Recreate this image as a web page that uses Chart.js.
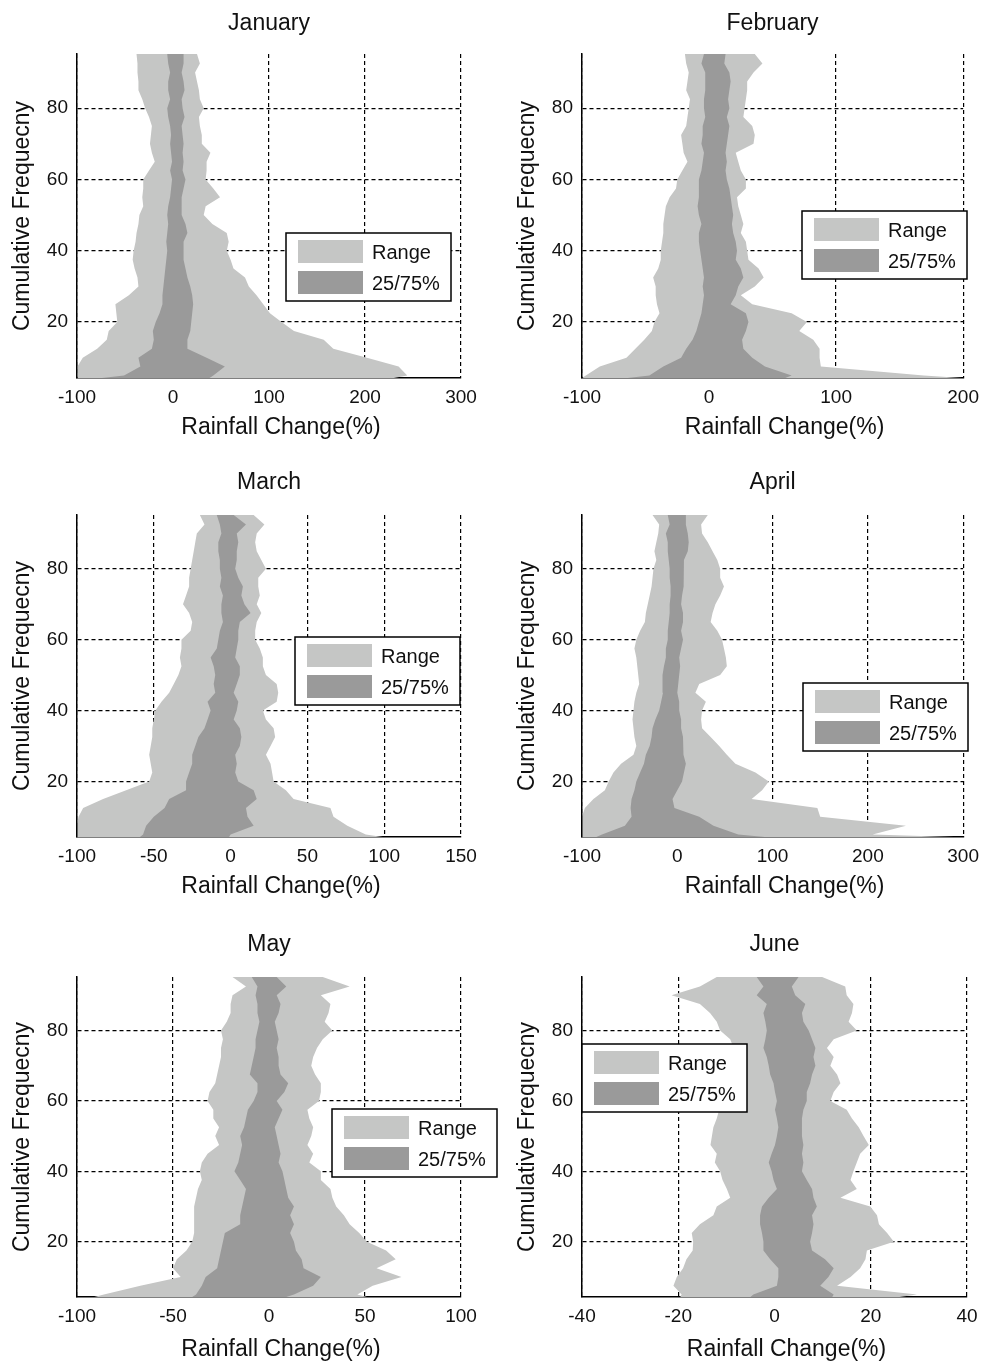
<!DOCTYPE html>
<html>
<head>
<meta charset="utf-8">
<title>Cumulative frequency of rainfall change, January to June</title>
<script src="https://cdn.jsdelivr.net/npm/chart.js@4.4.1/dist/chart.umd.min.js"></script>
<style>
  html, body { margin: 0; padding: 0; background: #fff; overflow: hidden; }
  body { position: relative; width: 987px; height: 1361px; }
  canvas { position: absolute; }
</style>
</head>
<body>
<canvas id="jan"></canvas>
<canvas id="feb"></canvas>
<canvas id="mar"></canvas>
<canvas id="apr"></canvas>
<canvas id="may"></canvas>
<canvas id="jun"></canvas>
<script>
'use strict';

/* cumulative frequency levels, shared by every month */
const FREQ = [4.3, 5, 7.5, 10, 12.5, 15, 17.5, 20, 22.5, 25, 27.5, 30, 32.5, 35, 37.5, 40, 42.5, 45, 47.5,
  50, 52.5, 55, 57.5, 60, 62.5, 65, 67.5, 70, 72.5, 75, 77.5, 80, 82.5, 85, 87.5, 90, 92.5, 95.2];
const FREQ_TICKS = [20, 40, 60, 80];

/* rainfall change (%) at each level: range (min/max) and 25/75 percentiles */
const JAN_MIN = [-100, -100, -99, -94, -79, -69, -67, -58, -59, -60, -46, -36, -37, -40, -42, -41, -39, -38, -36,
  -35, -31, -32, -31, -31, -25, -19, -22, -24, -23, -22, -25, -29, -32, -36, -36, -37, -37, -38];
const JAN_Q25 = [-74, -51, -34, -36, -22, -20, -21, -18, -14, -11, -11, -10, -9, -8, -7, -6, -7, -6, -5,
  -6, -5, -3, -2, -1, -3, -1, -2, -3, -2, -3, -5, -6, -3, -5, -5, -3, -5, -6];
const JAN_Q75 = [38, 42, 54, 35, 15, 15, 18, 19, 20, 21, 20, 18, 15, 13, 11, 11, 11, 15, 13,
  9, 9, 9, 11, 13, 10, 11, 10, 11, 10, 9, 12, 10, 9, 12, 11, 9, 11, 11];
const JAN_MAX = [230, 244, 235, 202, 167, 157, 126, 113, 101, 94, 87, 79, 75, 63, 60, 56, 58, 56, 41,
  32, 34, 49, 42, 34, 35, 35, 39, 30, 30, 28, 27, 32, 28, 27, 25, 23, 28, 25];
const JAN_TICKS = [-100, 0, 100, 200, 300];

const FEB_MIN = [-100, -97, -86, -65, -58, -51, -45, -43, -39, -41, -42, -42, -44, -40, -38, -38, -37, -36, -36,
  -35, -34, -31, -26, -25, -21, -17, -20, -21, -22, -18, -17, -16, -15, -18, -17, -16, -18, -19];
const FEB_Q25 = [-64, -47, -36, -22, -18, -13, -10, -8, -6, -5, -4, -5, -4, -5, -6, -7, -8, -8, -6,
  -8, -9, -8, -8, -8, -6, -5, -4, -6, -5, -5, -3, -4, -4, -3, -3, -3, -6, -4];
const FEB_Q75 = [60, 65, 44, 34, 27, 26, 29, 31, 29, 17, 21, 23, 27, 25, 21, 22, 21, 19, 18,
  19, 18, 17, 16, 14, 13, 14, 13, 14, 15, 16, 14, 16, 15, 16, 17, 16, 12, 13];
const FEB_MAX = [199, 169, 88, 87, 87, 82, 71, 77, 65, 34, 25, 36, 43, 39, 31, 30, 29, 25, 27,
  25, 23, 22, 29, 29, 25, 23, 21, 35, 36, 34, 27, 28, 29, 30, 30, 35, 42, 36];
const FEB_TICKS = [-100, 0, 100, 200];

const MAR_MIN = [-100, -100, -100, -99, -96, -83, -68, -53, -51, -52, -53, -52, -51, -51, -50, -49, -45, -40, -37,
  -34, -32, -33, -32, -32, -26, -25, -27, -31, -29, -27, -27, -26, -25, -24, -23, -22, -17, -20];
const MAR_Q25 = [-59, -57, -55, -50, -43, -40, -29, -29, -27, -25, -25, -23, -21, -17, -15, -13, -15, -10, -11,
  -10, -11, -13, -9, -8, -7, -5, -6, -6, -5, -7, -6, -7, -7, -8, -8, -6, -7, -9];
const MAR_Q75 = [-1, 0, 15, 11, 10, 17, 15, 5, 3, 4, 3, 6, 7, 6, 2, 4, 5, 2, 4,
  6, 6, 3, 4, 5, 5, 6, 13, 9, 7, 8, 5, 3, 4, 4, 5, 4, 10, 2];
const MAR_MAX = [99, 88, 76, 67, 65, 41, 36, 28, 27, 26, 23, 26, 29, 28, 23, 21, 30, 31, 30,
  23, 21, 21, 19, 16, 16, 17, 20, 17, 19, 18, 18, 23, 20, 17, 16, 17, 22, 15];
const MAR_TICKS = [-100, -50, 0, 50, 100, 150];

const APR_MIN = [-100, -100, -100, -100, -97, -88, -76, -72, -67, -59, -46, -43, -45, -46, -47, -46, -45, -43, -40,
  -41, -42, -43, -45, -43, -39, -34, -33, -31, -29, -27, -26, -25, -22, -24, -22, -20, -19, -26];
const APR_Q25 = [-85, -79, -55, -48, -49, -48, -45, -43, -39, -35, -33, -29, -27, -26, -23, -19, -17, -15, -16,
  -15, -14, -12, -12, -10, -10, -9, -8, -8, -7, -7, -8, -8, -9, -10, -10, -12, -8, -10];
const APR_Q75 = [92, 64, 38, 23, -3, -5, 0, 5, 7, 9, 6, 7, 6, 4, 4, 2, 2, 0, 1,
  2, 3, 2, 4, 6, 4, 6, 6, 4, 5, 7, 6, 7, 7, 11, 12, 11, 9, 9];
const APR_MAX = [290, 205, 240, 150, 147, 78, 89, 96, 82, 61, 52, 44, 35, 26, 25, 26, 30, 19, 23,
  45, 52, 51, 49, 47, 42, 35, 37, 40, 45, 49, 45, 45, 42, 37, 32, 26, 25, 32];
const APR_TICKS = [-100, 0, 100, 200, 300];

const MAY_MIN = [-91, -86, -67, -46, -50, -48, -43, -40, -39, -39, -39, -39, -38, -37, -35, -36, -35, -32, -26,
  -28, -26, -29, -29, -32, -31, -28, -27, -26, -25, -25, -24, -25, -22, -20, -20, -19, -12, -19];
const MAY_Q25 = [-40, -38, -35, -33, -27, -26, -25, -24, -23, -15, -15, -14, -13, -12, -15, -18, -16, -15, -14,
  -15, -13, -12, -11, -8, -6, -6, -10, -9, -8, -7, -7, -6, -5, -6, -6, -7, -6, -9];
const MAY_Q75 = [9, 13, 23, 27, 18, 17, 14, 13, 11, 13, 11, 13, 10, 9, 8, 7, 5, 6, 5,
  4, 3, 5, 7, 4, 8, 10, 6, 5, 5, 4, 5, 4, 3, 5, 6, 4, 9, 4];
const MAY_MAX = [51, 46, 54, 69, 56, 66, 61, 51, 47, 42, 39, 35, 33, 32, 27, 27, 21, 23, 20,
  22, 23, 21, 20, 26, 27, 27, 24, 22, 23, 25, 28, 33, 29, 31, 32, 27, 42, 28];
const MAY_TICKS = [-100, -50, 0, 50, 100];

const JUN_MIN = [-19.6, -19.3, -21, -20.3, -19, -18.3, -17, -16.9, -17.2, -15.5, -12.7, -12, -9.2, -9.9, -10.8,
  -11.3, -12.4, -12, -13.3, -13, -12.7, -12, -11.5, -11, -11, -10.5, -10, -10, -9.5, -8.5, -9.2, -11.3, -12,
  -13.4, -15.5, -21.4, -15.5, -12];
const JUN_Q25 = [-5, -4.4, 0.5, 0.8, 0.8, -0.9, -2.3, -2.3, -2.6, -3, -3, -2.6, -1.2, 0.5, -0.2, -0.6, -1.2, -0.6,
  0.1, 0.5, 0.8, 0.5, 0.1, 0.5, 0.1, -0.2, -0.9, -1.2, -1.6, -2.3, -1.9, -1.6, -1.9, -2.3, -1.6, -3.7, -2.3, -3.7];
const JUN_Q75 = [12, 12.3, 9.5, 11.2, 12.3, 10.5, 7.8, 7.4, 7.8, 8.1, 7.8, 8.8, 8.1, 7.8, 6.7, 5.7, 6, 5.7, 6,
  5.7, 5.7, 5.7, 6, 6.7, 6.7, 7.4, 7.8, 8.5, 8.1, 8.5, 7.8, 7.1, 6, 5.7, 6.4, 4.3, 3.6, 5];
const JUN_MAX = [26, 29.6, 13, 15.8, 17.8, 18.9, 19.2, 24.8, 23.4, 21.7, 21.3, 19.9, 13.7, 17.1, 15.8, 16.4,
  17.1, 17.8, 19.6, 18.5, 17.5, 16.1, 15, 11.6, 12.3, 13.7, 13, 11.6, 12.3, 10.9, 12.3, 17.1, 15.4, 16.1, 16.4,
  15, 14.7, 9.9];
const JUN_TICKS = [-40, -20, 0, 20, 40];

const LEGEND_LABELS = ['Range', '25/75%'];
const X_LABEL = 'Rainfall Change(%)';
const Y_LABEL = 'Cumulative Frequecny';

/* styling and layout */
const FONT = '"Liberation Sans", Arial, Helvetica, sans-serif';
const TEXT_COLOR = '#111';
const LIGHT = '#c5c6c5';
const DARK = '#9a9a9a';
const CANVAS_H = 460;
const AXIS_W = 77;
const TITLE_SIZE = 23;
const LABEL_SIZE = 23;
const TICK_SIZE = 19;
const LEGEND_SIZE = 20;

const COLS = [
  { left: 0, width: 500, padRight: 39 },
  { left: 505, width: 482, padRight: 20 }
];
const ROWS = [
  { top: 0, plotTop: 54, plotBottom: 378, titleY: 24, labelY: 50 },
  { top: 460, plotTop: 55, plotBottom: 377, titleY: 23, labelY: 50 },
  { top: 920, plotTop: 57, plotBottom: 377, titleY: 25, labelY: 53 }
];

const PANELS = [
  { id: 'jan', title: 'January', col: 0, row: 0, lo: JAN_MIN, q25: JAN_Q25, q75: JAN_Q75, hi: JAN_MAX, ticks: JAN_TICKS, legend: [209, 179] },
  { id: 'feb', title: 'February', col: 1, row: 0, lo: FEB_MIN, q25: FEB_Q25, q75: FEB_Q75, hi: FEB_MAX, ticks: FEB_TICKS, legend: [220, 157] },
  { id: 'mar', title: 'March', col: 0, row: 1, lo: MAR_MIN, q25: MAR_Q25, q75: MAR_Q75, hi: MAR_MAX, ticks: MAR_TICKS, legend: [218, 122] },
  { id: 'apr', title: 'April', col: 1, row: 1, lo: APR_MIN, q25: APR_Q25, q75: APR_Q75, hi: APR_MAX, ticks: APR_TICKS, legend: [221, 168] },
  { id: 'may', title: 'May', col: 0, row: 2, lo: MAY_MIN, q25: MAY_Q25, q75: MAY_Q75, hi: MAY_MAX, ticks: MAY_TICKS, legend: [255, 132] },
  { id: 'jun', title: 'June', col: 1, row: 2, lo: JUN_MIN, q25: JUN_Q25, q75: JUN_Q75, hi: JUN_MAX, ticks: JUN_TICKS, legend: [0, 67] }
];

Chart.defaults.font.family = FONT;
Chart.defaults.color = TEXT_COLOR;

/* x-axis label (offset right like the original) and the boxed legend */
const panelDecor = {
  id: 'panelDecor',
  afterDraw(chart, args, opts) {
    const ctx = chart.ctx;
    const area = chart.chartArea;

    ctx.save();
    ctx.fillStyle = TEXT_COLOR;
    ctx.font = LABEL_SIZE + 'px ' + FONT;
    ctx.textAlign = 'center';
    ctx.textBaseline = 'middle';
    ctx.fillText(X_LABEL, (area.left + area.right) / 2 + 12, area.bottom + opts.labelY);

    const bx = area.left + opts.legend[0];
    const by = area.top + opts.legend[1];
    ctx.fillStyle = '#fff';
    ctx.fillRect(bx, by, 165, 68);
    ctx.lineWidth = 1.5;
    ctx.strokeStyle = '#000';
    ctx.strokeRect(bx, by, 165, 68);

    const swatches = [LIGHT, DARK];
    ctx.font = LEGEND_SIZE + 'px ' + FONT;
    ctx.textAlign = 'left';
    for (let i = 0; i < LEGEND_LABELS.length; i++) {
      ctx.fillStyle = swatches[i];
      ctx.fillRect(bx + 12, by + 7 + i * 31, 65, 23);
      ctx.fillStyle = TEXT_COLOR;
      ctx.fillText(LEGEND_LABELS[i], bx + 86, by + 20 + i * 31);
    }
    ctx.restore();
  }
};

function band(values, color, fill) {
  return {
    data: values.map((v, i) => ({ x: v, y: FREQ[i] })),
    backgroundColor: color,
    borderColor: 'rgba(0,0,0,0)',
    borderWidth: 0,
    pointRadius: 0,
    tension: 0,
    fill: fill
  };
}

function makeChart(panel) {
  const col = COLS[panel.col];
  const row = ROWS[panel.row];
  const canvas = document.getElementById(panel.id);
  canvas.width = col.width;
  canvas.height = CANVAS_H;
  canvas.style.left = col.left + 'px';
  canvas.style.top = row.top + 'px';

  const titleLine = TITLE_SIZE * 1.2;
  const titlePadTop = row.titleY - titleLine / 2;
  const titlePadBottom = row.plotTop - titlePadTop - titleLine;
  const grid = { color: '#000', lineWidth: 1.2, drawTicks: false };

  return new Chart(canvas, {
    type: 'line',
    data: {
      // dark band first so it is painted over the light range band
      datasets: [
        band(panel.q25, DARK, '+1'),
        band(panel.q75, DARK, false),
        band(panel.lo, LIGHT, '+1'),
        band(panel.hi, LIGHT, false)
      ]
    },
    options: {
      indexAxis: 'y',
      responsive: false,
      animation: false,
      devicePixelRatio: 1,
      events: [],
      layout: { padding: { left: 0, right: col.padRight, top: 0, bottom: 0 } },
      plugins: {
        legend: { display: false },
        tooltip: { enabled: false },
        title: {
          display: true,
          text: panel.title,
          fullSize: false,
          color: TEXT_COLOR,
          font: { size: TITLE_SIZE, weight: 'normal' },
          padding: { top: titlePadTop, bottom: titlePadBottom }
        },
        panelDecor: { legend: panel.legend, labelY: row.labelY }
      },
      scales: {
        x: {
          type: 'linear',
          position: 'bottom',
          min: panel.ticks[0],
          max: panel.ticks[panel.ticks.length - 1],
          afterBuildTicks: (scale) => { scale.ticks = panel.ticks.map(v => ({ value: v })); },
          afterFit: (scale) => { scale.height = CANVAS_H - row.plotBottom; },
          grid: grid,
          // bottom axis sits under the bands, as in the original
          border: { display: true, color: '#000', width: 1.5, dash: [4, 3], z: 0 },
          ticks: {
            autoSkip: false,
            maxRotation: 0,
            padding: 8,
            color: TEXT_COLOR,
            font: { size: TICK_SIZE },
            callback: (v) => String(v)
          }
        },
        y: {
          type: 'linear',
          position: 'left',
          min: FREQ[0],
          max: FREQ[FREQ.length - 1],
          afterBuildTicks: (scale) => { scale.ticks = FREQ_TICKS.map(v => ({ value: v })); },
          afterFit: (scale) => { scale.width = AXIS_W; },
          grid: grid,
          border: { display: true, color: '#000', width: 1.5, dash: [4, 3], z: 1 },
          ticks: {
            autoSkip: false,
            padding: 9,
            color: TEXT_COLOR,
            font: { size: TICK_SIZE },
            callback: (v) => String(v)
          },
          title: {
            display: true,
            text: Y_LABEL,
            color: TEXT_COLOR,
            font: { size: LABEL_SIZE },
            padding: { top: 9, bottom: 0 }
          }
        }
      }
    },
    plugins: [panelDecor]
  });
}

for (let i = 0, j = PANELS.length; i < j; i++) {
  makeChart(PANELS[i]);
}
</script>
</body>
</html>
